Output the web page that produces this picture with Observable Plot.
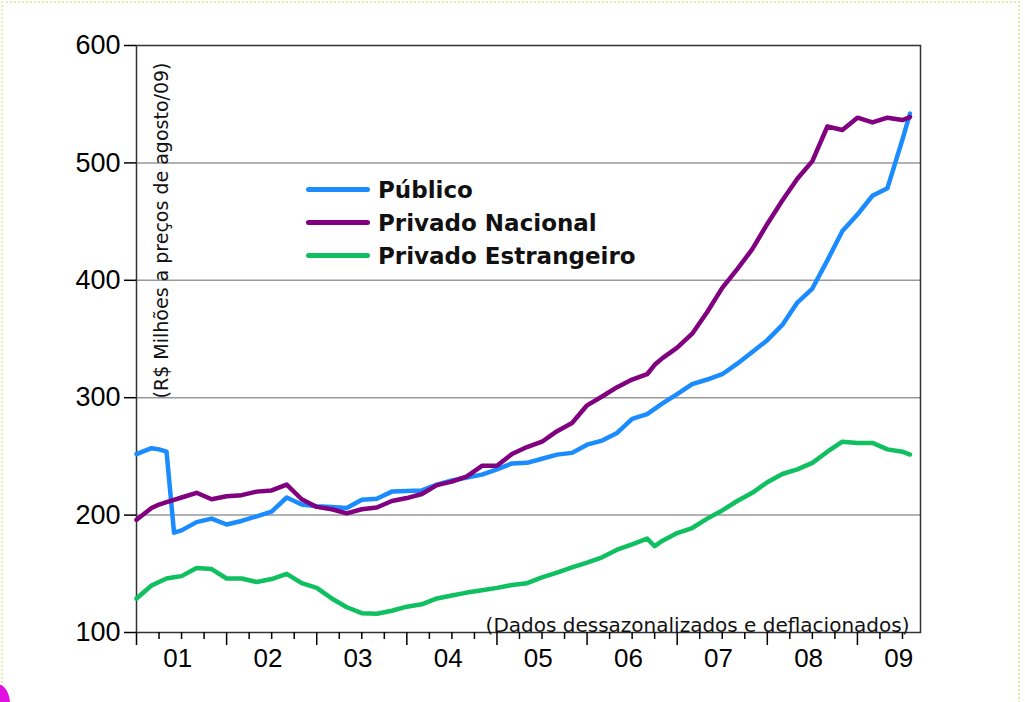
<!DOCTYPE html>
<html><head><meta charset="utf-8">
<script src="https://cdn.jsdelivr.net/npm/d3@7"></script>
<script src="https://cdn.jsdelivr.net/npm/@observablehq/plot@0.6"></script>
<style>
body{margin:0;background:#fff;}
#wrap{position:relative;width:1025px;height:702px;overflow:hidden;background:#fff;}
#border{position:absolute;left:1px;top:1px;width:1019px;height:710px;border:2px dotted #e3edb0;box-sizing:border-box;pointer-events:none;}
#corner{position:absolute;left:-16px;top:684px;width:26px;height:40px;border-radius:50%;background:#e010e0;}
#legend{position:absolute;left:306px;top:174px;font-family:"DejaVu Sans";font-weight:bold;font-size:23px;color:#111;}
#legend .row{height:33px;line-height:33px;white-space:nowrap;}
#legend .sw{display:inline-block;width:64px;height:5px;border-radius:3px;vertical-align:middle;margin-right:8px;position:relative;top:-2px;}
#chart{position:absolute;left:0;top:0;}
</style>
</head><body>
<div id="wrap"><div id="chart"></div><div id="legend"></div><div id="border"></div><div id="corner"></div></div>
<script>
// months since Jan 2001
const months = [0,2,3,4,5,6,8,10,12,14,16,18,20,22,24,26,28,30,32,34,36,38,40,42,44,46,48,50,52,54,56,58,60,62,64,66,68,69,70,72,74,76,78,80,82,84,86,88,90,92,94,96,98,100,102,103];
const publico = [252,257,256,254,185,187,194,197,192,195,199,203,215,209,207.5,207,206,213,214,220,220.5,221,226,229.5,232,234.5,239,244,244.5,248,251.5,253,260,263.5,270,282,286,290.5,295,303,311.5,315.5,320,329,339,349,362,381,393,417,442,456,472,478.5,520,542];
const privadoNacional = [196,206,209,211,213,215,219,213.5,216,217,220,221,226,213.5,207,205,201.5,205,206.5,212,214.5,218,225.5,228.5,233,242,242,252,258,262.5,271.5,278.5,293.5,301,309,315.5,320,328,333.5,342.6,354.5,373,393.5,409.5,426.5,448,468,486.5,501.5,531,528,538.5,534.5,538.5,536.5,539];
const privadoEstrangeiro = [129,140,143,146,147,148,155,154,146,146,143,145.5,150,142,138,129,121.5,116.5,116,118.5,122,124,129,131.5,134,136,138,140.5,142,147,151,155.5,159.5,164,170.5,175,180,173.5,178,184.7,189,197,204,212,219,228,235,239,244.5,254,262.5,261.5,261.5,256,254,251.6];

const seriesNames = ["Público","Privado Nacional","Privado Estrangeiro"];
const seriesColors = ["#1a8cff","#800080","#10c060"];
const yTicks = [100,200,300,400,500,600];
const yearLabels = ["01","02","03","04","05","06","07","08","09"];
const yTitle = "(R$ Milhões a preços de agosto/09)";
const caption = "(Dados dessazonalizados e deflacionados)";

const seriesValues = [publico, privadoNacional, privadoEstrangeiro];
const data = [];
seriesNames.forEach((s, k) => months.forEach((m, i) => data.push({serie: s, m, v: seriesValues[k][i]})));

const yearTicks = yearLabels.map((_, i) => i * 12);
const quarterTicks = d3.range(0, 104, 3).filter(d => d % 12 !== 0);
const labelPos = yearLabels.map((_, i) => i * 12 + 5.5);

const plot = Plot.plot({
  width: 1025, height: 702,
  marginLeft: 136, marginRight: 105, marginTop: 45, marginBottom: 70,
  style: {fontFamily: "Liberation Sans, Arial, sans-serif", fontSize: "26px", color: "#000", background: "transparent"},
  x: {domain: [0, 104.4]},
  y: {domain: [100, 600]},
  color: {domain: seriesNames, range: seriesColors},
  marks: [
    Plot.gridY(yTicks.filter(d => d > 100 && d < 600), {stroke: "#999", strokeOpacity: 1, strokeWidth: 1.5}),
    Plot.frame({stroke: "#333", strokeWidth: 1.5}),
    Plot.axisY({ticks: yTicks, tickSize: 12, tickPadding: 4, strokeWidth: 1.5, fontSize: 27, label: null}),
    Plot.axisX({ticks: yearTicks, tickSize: 13, strokeWidth: 1.5, tickFormat: () => "", label: null}),
    Plot.axisX({ticks: quarterTicks, tickSize: 7, strokeWidth: 1.5, tickFormat: () => "", label: null}),
    Plot.axisX({ticks: labelPos, tickSize: 0, tickPadding: 16, tickFormat: d => yearLabels[labelPos.indexOf(d)], label: null}),
    Plot.line(data, {x: "m", y: "v", z: "serie", stroke: "serie", strokeWidth: 4.5, strokeLinejoin: "round", strokeLinecap: "round"}),
    Plot.text([caption], {frameAnchor: "bottom-right", textAnchor: "end", lineAnchor: "bottom", dx: -11, dy: -1, fontSize: 20, fontFamily: "DejaVu Sans", fill: "#111"}),
    Plot.text([yTitle], {frameAnchor: "top-left", rotate: -90, textAnchor: "end", lineAnchor: "middle", dx: 25, dy: 17, fontSize: 19, fontFamily: "DejaVu Sans", fill: "#111"})
  ]
});
document.getElementById("chart").appendChild(plot);

const legend = d3.select("#legend");
seriesNames.forEach((s, i) => {
  const row = legend.append("div").attr("class", "row");
  row.append("span").attr("class", "sw").style("background", seriesColors[i]);
  row.append("span").text(s);
});
</script>
</body></html>
